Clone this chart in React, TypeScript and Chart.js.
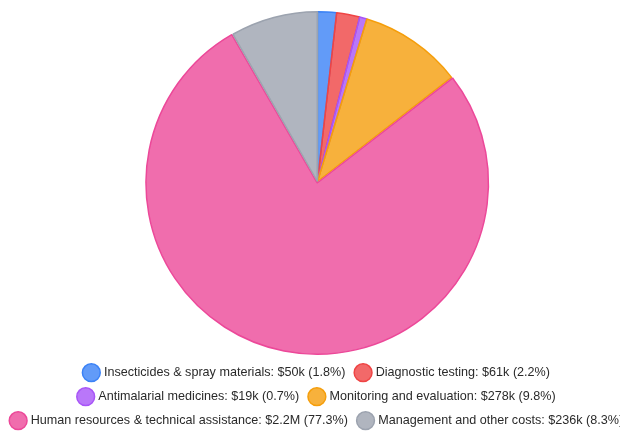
import React, { useEffect, useRef } from "react";
import { Chart, registerables } from "chart.js";

Chart.register(...registerables);

const categories = [
  "Insecticides & spray materials",
  "Diagnostic testing",
  "Antimalarial medicines",
  "Monitoring and evaluation",
  "Human resources & technical assistance",
  "Management and other costs",
];
const amountLabels = ["$50k", "$61k", "$19k", "$278k", "$2.2M", "$236k"];
const shares = [1.8, 2.2, 0.7, 9.8, 77.3, 8.3];
const colors = ["#3b82f6", "#ef4444", "#a855f7", "#f59e0b", "#ec4899", "#9ca3af"];
const fills = [
  "rgba(59,130,246,0.8)",
  "rgba(239,68,68,0.8)",
  "rgba(168,85,247,0.8)",
  "rgba(245,158,11,0.8)",
  "rgba(236,72,153,0.8)",
  "rgba(156,163,175,0.8)",
];
const offsets = [0, 0, 0, 0, 6, 0];

export default function App() {
  const ref = useRef<HTMLCanvasElement | null>(null);
  useEffect(() => {
    if (!ref.current) return;
    const labels = categories.map(
      (c, i) => `${c}: ${amountLabels[i]} (${shares[i].toFixed(1)}%)`
    );
    const chart = new Chart(ref.current, {
      type: "pie",
      data: {
        labels,
        datasets: [
          {
            data: shares,
            backgroundColor: fills,
            borderColor: colors,
            borderWidth: 1.5,
            offset: offsets,
          },
        ],
      },
      options: {
        animation: false,
        responsive: true,
        maintainAspectRatio: false,
        layout: { padding: { left: -4, right: -4, top: -4, bottom: 0 } },
        plugins: {
          tooltip: { enabled: false },
          legend: {
            position: "bottom",
            labels: {
              usePointStyle: true,
              pointStyle: "circle",
              boxWidth: 12.6,
              boxHeight: 12.6,
              padding: 11.4,
              color: "#2a2a2a",
              font: { size: 12.6, family: "Helvetica, Arial, 'Liberation Sans', sans-serif" },
              generateLabels: (ch: any) =>
                (ch.data.labels as string[]).map((text, i) => ({
                  text,
                  fillStyle: fills[i],
                  strokeStyle: colors[i],
                  lineWidth: 1.5,
                  fontColor: "#2a2a2a",
                  pointStyle: "circle",
                  hidden: !ch.getDataVisibility(i),
                  index: i,
                })),
            },
          },
        },
      },
    });
    return () => chart.destroy();
  }, []);
  return (
    <div style={{ margin: "0 -8px", width: 628, height: 425, overflow: "hidden" }}>
      <div style={{ width: 635, height: 429 }}>
        <canvas ref={ref} />
      </div>
    </div>
  );
}
